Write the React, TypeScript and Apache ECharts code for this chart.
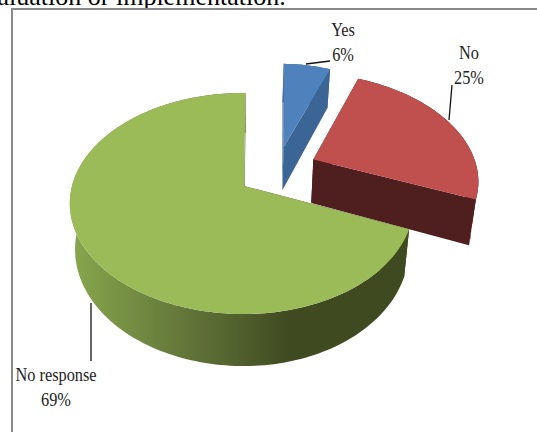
import React, { useEffect, useRef } from "react";
import * as echarts from "echarts";

// Survey responses, in percent, clockwise from the first-slice angle
const categories = ["Yes", "No", "No response"];
const shares = [6, 25, 69];

const topColors = ["#4f81bd", "#c0504d", "#9bbb59"];
const sideColors = ["#3a6594", "#4e1f1e", "#5f7635"];
const burst = [
  [0.25, -0.38],
  [0.43, -0.255],
  [0, 0],
];
// Per-slice x squeeze and lean around the slice's own apex
const trim = [
  [0.905, -0.042],
  [1, 0],
  [1, 0],
];

// Pie camera: plan coordinates are projected with a simple perspective
const CX = 244;
const CY = 186;
const RX = 172;
const RY = 107.8;
const PERSP = 0.158;
const FOOT = 0.97;
const RIGHT_SQUEEZE = 0.975;
const START_ANGLE = (0.6 * Math.PI) / 180;

type Pt = { x: number; y: number; s: number };

function top(px: number, py: number): Pt {
  const s = 1 / (1 - PERSP * py);
  const squeeze = px > 0 ? RIGHT_SQUEEZE : 1;
  return { x: CX + squeeze * RX * px * s, y: CY + RY * py * s, s };
}

function foot(p: Pt): Pt {
  return {
    x: CX + (p.x - CX) * FOOT,
    y: CY + (p.y - CY) * FOOT - 13 + 58 * p.s,
    s: p.s,
  };
}

const xy = (p: Pt) => [p.x, p.y];

function renderSlice(params: any) {
  const i = params.dataIndex;
  const total = shares.reduce((a, b) => a + b, 0);
  const before = shares.slice(0, i).reduce((a, b) => a + b, 0);
  const a0 = START_ANGLE + (before / total) * Math.PI * 2;
  const a1 = START_ANGLE + ((before + shares[i]) / total) * Math.PI * 2;
  const [ox, oy] = burst[i];
  const [sq, lean] = trim[i];

  const apex = top(ox, oy);
  const arc: Pt[] = [];
  const steps = Math.max(8, Math.round((a1 - a0) * 40));
  for (let k = 0; k <= steps; k++) {
    const a = a0 + ((a1 - a0) * k) / steps;
    const p = top(ox + Math.sin(a), oy - Math.cos(a));
    arc.push({ ...p, x: apex.x + sq * (p.x - apex.x) + lean * (p.y - apex.y) });
  }

  const first = arc[0];
  const last = arc[arc.length - 1];
  const sideFill: any =
    i === 2
      ? new echarts.graphic.LinearGradient(
          76,
          0,
          290,
          0,
          [
            { offset: 0, color: "#86a54c" },
            { offset: 0.5, color: "#63773a" },
            { offset: 1, color: "#3f4a20" },
          ],
          true
        )
      : sideColors[i];

  const quad = (a: Pt, b: Pt, fill: any) => ({
    type: "polygon",
    shape: { points: [xy(a), xy(b), xy(foot(b)), xy(foot(a))] },
    style: { fill },
  });

  // Back cut face, outer wall, then the cut face nearest the camera
  const rim = {
    type: "polygon",
    shape: {
      points: [...arc.map(xy), ...arc.slice().reverse().map((p) => xy(foot(p)))],
    },
    style: { fill: sideFill },
  };

  const children =
    i === 2
      ? [quad(apex, first, "#3f4a20"), rim, quad(apex, last, sideColors[i])]
      : [quad(apex, first, sideColors[i]), rim, quad(apex, last, sideColors[i])];

  children.push({
    type: "polygon",
    shape: { points: [xy(apex), ...arc.map(xy)] },
    style: { fill: topColors[i] },
  } as any);

  return { type: "group", children };
}

const labelAt = (i: number, x: number, y: number) => ({
  type: "text",
  x,
  y,
  scaleX: 0.96,
  scaleY: 1.12,
  style: {
    fontFamily: "Liberation Serif",
    fontSize: 17,
    fill: "#222222",
    lineHeight: 22,
    text: `${categories[i]}\n${shares[i]}%`,
    align: "center",
    verticalAlign: "middle",
  },
});

const leader = (x1: number, y1: number, x2: number, y2: number) => ({
  type: "line",
  shape: { x1, y1, x2, y2 },
  style: { stroke: "#111111", lineWidth: 1.3 },
});

export default function App() {
  const ref = useRef<HTMLDivElement>(null);

  useEffect(() => {
    const chart = echarts.init(ref.current!, undefined, { renderer: "svg" });
    chart.setOption({
      animation: false,
      backgroundColor: "#ffffff",
      series: [
        {
          type: "custom",
          coordinateSystem: "none",
          silent: true,
          data: shares,
          renderItem: renderSlice,
        },
      ],
      graphic: [
        {
          type: "text",
          x: -27,
          y: 9,
          style: {
            text: "evaluation or implementation.",
            fontFamily: "Liberation Serif",
            fontSize: 26,
            fill: "#000000",
            align: "left",
            verticalAlign: "bottom",
          },
        },
        {
          type: "polyline",
          shape: { points: [[12, 432], [12, 9], [537, 9]] },
          style: { stroke: "#8a8a8a", lineWidth: 2, fill: "none" },
        },
        leader(306, 64, 330, 61),
        leader(449, 120, 452, 85),
        leader(91, 303, 91, 361),
        labelAt(0, 343, 42),
        labelAt(1, 469, 65),
        labelAt(2, 56, 387),
      ],
    });
    return () => chart.dispose();
  }, []);

  return <div ref={ref} style={{ position: "fixed", left: 0, top: 0, width: 537, height: 432 }} />;
}
